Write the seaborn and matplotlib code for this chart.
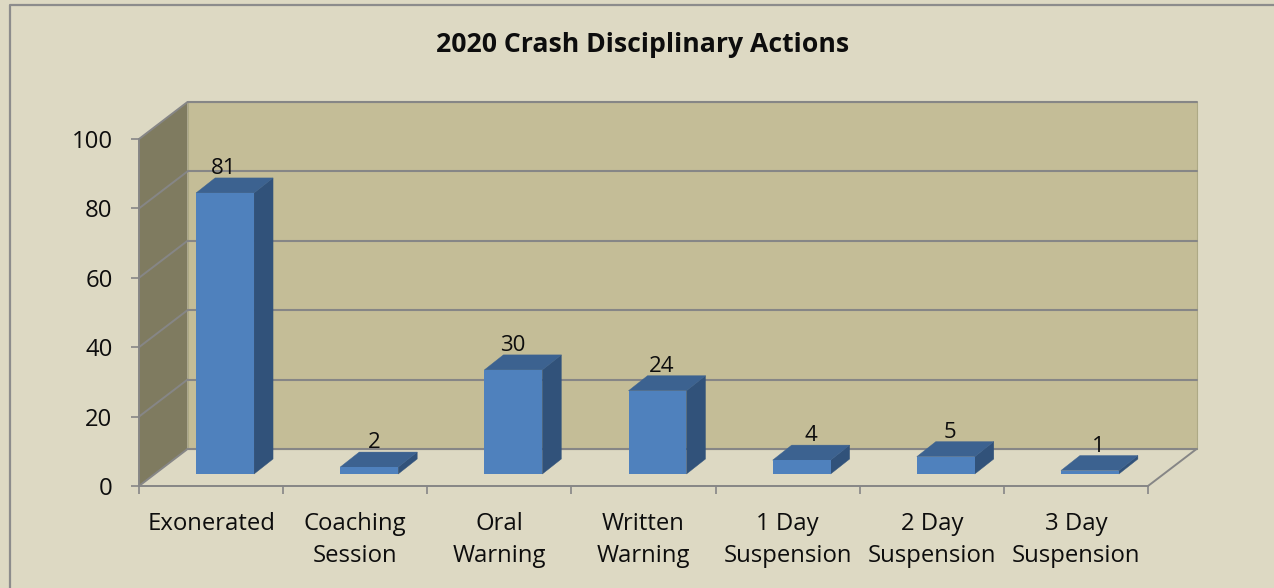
import matplotlib
matplotlib.use("Agg")
import matplotlib.pyplot as plt
import seaborn as sns
import pandas as pd
from matplotlib.lines import Line2D
from matplotlib.patches import Polygon, Rectangle
from matplotlib.transforms import Affine2D, IdentityTransform

categories = ["Exonerated", "Coaching\nSession", "Oral\nWarning", "Written\nWarning",
              "1 Day\nSuspension", "2 Day\nSuspension", "3 Day\nSuspension"]
values = [81, 2, 30, 24, 4, 5, 1]
y_ticks = [0, 20, 40, 60, 80, 100]
title = "2020 Crash Disciplinary Actions"

# style / layout (pixels)
W, H = 1274, 588
BG, WALL, SIDE = "#DDD9C3", "#C4BD97", "#7F7B60"
LINE = "#868686"
INK = "#0D0D0D"
FRONT, BAR_SIDE, BAR_TOP = "#4F81BD", "#31527A", "#3C6290"
X0, X1, Y0, Y100 = 139, 1148, 486, 139     # front plane of the plot
DEPTH = (48.5, 37)                         # wall depth
BAR_SHIFT = (14, 12)                       # bar front plane inside the floor
BAR_DEPTH = (19, 15)
label_dx = [-1, 5, -1, 4, 9, 4, 8]

sns.set_theme(style="white")
plt.rcParams["font.family"] = ["Open Sans", "DejaVu Sans"]

fig = plt.figure(figsize=(W / 100, H / 100), dpi=100, facecolor=BG)


def box(dx=0, dy=0):
    return [(X0 + dx) / W, (H - Y0 + dy) / H, (X1 - X0) / W, (Y0 - Y100) / H]


# chart-area border: only the top and left edges fall inside the picture
fig.add_artist(Line2D([9.5 / W, 9.5 / W, 1], [0, 1 - 4.5 / H, 1 - 4.5 / H], transform=fig.transFigure,
                      color="#8C8C8C", lw=1.6))

ax = fig.add_axes(box())
ax.set_facecolor("none")
ax.set_xlim(-0.5, len(categories) - 0.5)
ax.set_ylim(0, 100)
back = ax.transData + Affine2D().translate(*DEPTH)

# back wall and its grid
ax.add_patch(Rectangle((-0.5, 0), len(categories), 100, transform=back, fc=WALL, ec="#ADA985", lw=0.8,
                       clip_on=False, zorder=0))
pts = ax.transData.transform([(-0.5, 0), (-0.5, 100)])
ax.add_patch(Polygon([pts[0], pts[1], pts[1] + DEPTH, pts[0] + DEPTH], transform=IdentityTransform(),
                     fc=SIDE, ec="none", clip_on=False, zorder=1))
for v in y_ticks:
    a = ax.transData.transform((-0.5, v))
    ax.plot([a[0], a[0] + DEPTH[0]], [a[1], a[1] + DEPTH[1]], transform=IdentityTransform(),
            color=LINE, lw=1.4, clip_on=False, zorder=2)
    ax.plot([-0.5, len(categories) - 0.5], [v, v], transform=back, color=LINE, lw=1.5, clip_on=False, zorder=2)
r = ax.transData.transform((len(categories) - 0.5, 0))
ax.plot([r[0], r[0] + DEPTH[0]], [r[1], r[1] + DEPTH[1]], transform=IdentityTransform(),
        color=LINE, lw=1.4, clip_on=False, zorder=2)

# axes
for s in ("top", "right"):
    ax.spines[s].set_visible(False)
for s in ("left", "bottom"):
    ax.spines[s].set_color(LINE)
    ax.spines[s].set_linewidth(1.4)
ax.set_yticks(y_ticks)
ax.set_yticklabels([str(v) for v in y_ticks], fontsize=17.2, color=INK)
ax.tick_params(axis="y", length=6, width=1.2, color=LINE, pad=13, left=True)
ax.set_xticks([i - 0.5 for i in range(len(categories) + 1)])
ax.set_xticklabels([])
ax.tick_params(axis="x", which="major", length=5.5, width=1.2, color=LINE, bottom=True)
ax.set_xticks(range(len(categories)), minor=True)
ax.set_xticklabels(categories, minor=True, fontsize=17.2, color=INK, linespacing=1.41)
ax.tick_params(axis="x", which="minor", length=0, pad=19)

# bars
bar_ax = fig.add_axes(box(*BAR_SHIFT))
bar_ax.patch.set_visible(False)
df = pd.DataFrame({"category": categories, "value": values})
sns.barplot(data=df, x="category", y="value", ax=bar_ax, color=FRONT, saturation=1, width=0.402, zorder=4)
bar_ax.set_xlim(-0.5, len(categories) - 0.5)
bar_ax.set_ylim(0, 100)
bar_ax.axis("off")
for p, v, dx in zip(bar_ax.patches, values, label_dx):
    p.set_edgecolor("none")
    (x0, y0), (x1, y1) = bar_ax.transData.transform([(p.get_x(), 0), (p.get_x() + p.get_width(), v)])
    dxp, dyp = BAR_DEPTH
    bar_ax.add_patch(Polygon([(x1, y0), (x1 + dxp, y0 + dyp), (x1 + dxp, y1 + dyp), (x1, y1)],
                             transform=IdentityTransform(), fc=BAR_SIDE, ec=BAR_SIDE, lw=0.3,
                             clip_on=False, zorder=3))
    bar_ax.add_patch(Polygon([(x0, y1), (x0 + dxp, y1 + dyp), (x1 + dxp, y1 + dyp), (x1, y1)],
                             transform=IdentityTransform(), fc=BAR_TOP, ec=BAR_TOP, lw=0.3,
                             clip_on=False, zorder=3))
    bar_ax.text((x0 + x1) / 2 + dx, y1 + 24.5, str(v), transform=IdentityTransform(), ha="center", va="center",
                fontsize=16, color=INK, zorder=5, clip_on=False)

fig.text(643 / W, 1 - 45.5 / H, title, ha="center", va="center", fontsize=19.2, fontweight="bold", color=INK)

fig.savefig("out.png", dpi=100, facecolor=BG)
